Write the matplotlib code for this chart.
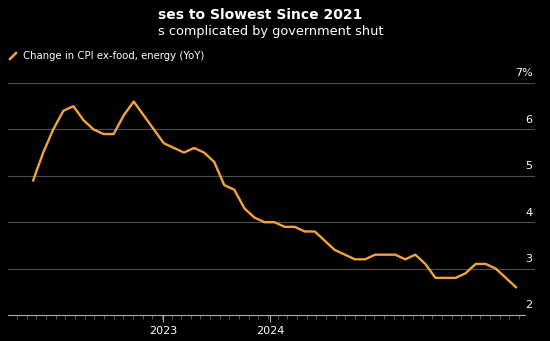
import matplotlib
matplotlib.use("Agg")
import matplotlib.pyplot as plt
from matplotlib.lines import Line2D
import numpy as np

# core CPI YoY, Nov 2021 .. Nov 2025 (Oct 2025 missing, shutdown)
months = list(range(0, 47)) + [48]
core_cpi = [4.9, 5.5, 6.0, 6.4, 6.5, 6.2, 6.0, 5.9, 5.9, 6.3, 6.6, 6.3,
            6.0, 5.7, 5.6, 5.5, 5.6, 5.5, 5.3, 4.8, 4.7, 4.3, 4.1, 4.0,
            4.0, 3.9, 3.9, 3.8, 3.8, 3.6, 3.4, 3.3, 3.2, 3.2, 3.3, 3.3,
            3.3, 3.2, 3.3, 3.1, 2.8, 2.8, 2.8, 2.9, 3.1, 3.1, 3.0, 2.6]
year_ticks = [12.9, 23.6]
year_labels = ["2023", "2024"]
y_ticks = [3, 4, 5, 6, 7]
y_labels = ["3", "4", "5", "6", "7%"]

orange = "#f4a23e"
W, H = 550, 341
fig = plt.figure(figsize=(5.5, 3.41), dpi=100, facecolor="black")
ax = fig.add_axes([8 / W, 1 - 315 / H, (535 - 8) / W, (315 - 83) / H])
ax.set_facecolor("black")

ax.plot(months, core_cpi, color=orange, lw=1.7, solid_joinstyle="round")

ax.set_xlim(-2.5, 49.9)
ax.set_ylim(2, 7)

for v in y_ticks:
    ax.axhline(v, color="#4d4d4d", lw=0.8, zorder=0)
for v, lab in zip(y_ticks, y_labels):
    ax.text(0.995, v + 0.1, lab, transform=ax.get_yaxis_transform(),
            ha="right", va="bottom", color="white", fontsize=8)
ax.text(0.995, 2.1, "2", transform=ax.get_yaxis_transform(),
        ha="right", va="bottom", color="white", fontsize=8)

for s in ["top", "left", "right"]:
    ax.spines[s].set_visible(False)
ax.spines["bottom"].set_color("#aaaaaa")
ax.spines["bottom"].set_linewidth(0.8)
ax.spines["bottom"].set_bounds(-2.5, 48.9)
ax.set_yticks([])
ax.set_xticks(year_ticks)
ax.set_xticklabels(year_labels, color="white", fontsize=8)
ax.set_xticks(np.arange(-1.6, 48.9, 0.96), minor=True)
ax.tick_params(axis="x", which="major", length=5, color="#aaaaaa", pad=3)
ax.tick_params(axis="x", which="minor", length=3, color="#666666")

# partly cut header
fig.text(158 / W, 1 - 15 / H, "ses to Slowest Since 2021", color="white",
         fontsize=10, fontweight="bold", va="center", ha="left")
fig.text(158 / W, 1 - 31 / H, "s complicated by government shut", color="white",
         fontsize=9.3, va="center", ha="left")

fig.add_artist(Line2D([10 / W, 16 / W], [1 - 59 / H, 1 - 53 / H], color=orange, lw=1.8))
fig.text(23 / W, 1 - 56 / H, "Change in CPI ex-food, energy (YoY)", color="white",
         fontsize=7.3, va="center", ha="left")

fig.savefig("out.png", dpi=100, facecolor="black")
